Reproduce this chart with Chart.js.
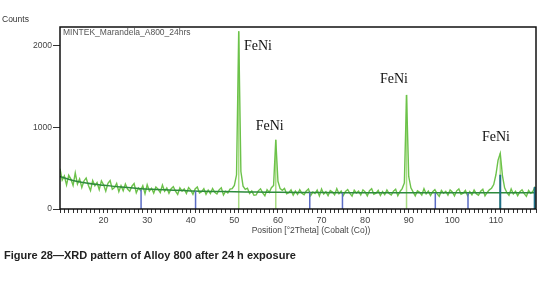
<!DOCTYPE html>
<html>
<head>
<meta charset="utf-8">
<script src="https://cdn.jsdelivr.net/npm/chart.js@4/dist/chart.umd.min.js"></script>
<style>
  body { margin: 0; background: #fff; }
  #wrap { position: relative; width: 551px; height: 284px; }
  #chart { position: absolute; left: 0; top: 0; }
  #caption {
    position: absolute; left: 4px; top: 249px;
    font: bold 11px "Liberation Sans", Arial, sans-serif; color: #222;
    white-space: nowrap;
  }
</style>
</head>
<body>
<div id="wrap">
  <canvas id="chart" width="551" height="284"></canvas>
  <div id="caption">Figure 28—XRD pattern of Alloy 800 after 24 h exposure</div>
</div>
<script>
// scan: 10 to 119 deg 2Theta, every 0.5 deg
const scanStart = 10
const scanStep = 0.5
const scanCounts = [
  495, 355, 405, 295, 416, 368, 290, 443, 306, 370,
  264, 344, 381, 291, 226, 350, 286, 325, 237, 345,
  297, 219, 315, 349, 242, 262, 313, 213, 287, 224,
  306, 245, 217, 280, 312, 199, 257, 228, 286, 187,
  297, 220, 254, 195, 269, 244, 202, 294, 218, 257,
  193, 248, 274, 218, 178, 260, 220, 247, 191, 262,
  232, 179, 246, 271, 197, 212, 248, 180, 232, 190,
  252, 205, 184, 235, 261, 171, 218, 196, 243, 250,
  290, 420, 2180, 460, 280, 240, 255, 190, 220, 168,
  173, 223, 248, 198, 163, 238, 203, 262, 290, 850,
  340, 250, 229, 253, 186, 200, 234, 171, 219, 181,
  237, 193, 174, 222, 246, 165, 208, 189, 232, 160,
  245, 183, 212, 164, 226, 207, 173, 250, 188, 221,
  167, 215, 239, 191, 158, 230, 196, 220, 172, 235,
  210, 162, 224, 248, 181, 195, 229, 166, 214, 176,
  234, 190, 171, 219, 243, 162, 215, 250, 320, 1400,
  400, 260, 210, 162, 224, 205, 171, 248, 186, 219,
  165, 213, 237, 189, 156, 228, 194, 218, 170, 233,
  209, 161, 223, 247, 180, 194, 228, 165, 213, 175,
  232, 188, 169, 217, 241, 160, 203, 235, 255, 300,
  420, 600, 683, 410, 260, 203, 169, 246, 184, 217,
  164, 212, 236, 188, 155, 227, 193, 217, 275
]

// fitted background
const bgTheta = [10, 12, 14, 16, 18, 20, 24, 28, 32, 36, 40, 45, 50, 55, 60, 70, 80, 90, 100, 110, 119]
const bgCounts = [400, 365, 338, 318, 303, 292, 270, 252, 240, 230, 222, 216, 212, 208, 205, 202, 200, 200, 199, 198, 198]

// peak list
const peakTheta = [51.0, 59.5, 89.5, 111.0]
const peakCounts = [2180, 850, 1400, 683]

// reference pattern sticks
const refTheta = [28.6, 41.1, 67.3, 74.8, 96.1, 103.6]
const refCounts = [235, 220, 205, 200, 195, 195]
const feniTheta = [111.0, 118.9]
const feniCounts = [420, 270]

const yTicks = [0, 1000, 2000]
const xLabels = [20, 30, 40, 50, 60, 70, 80, 90, 100, 110]

const labelText = 'FeNi'
const labelTheta = [55.4, 58.1, 86.6, 110.0]
const labelCounts = [2000, 1018, 1595, 883]

function sticks(xs, ys) {
  var pts = []
  xs.forEach((x, i) => {
    pts.push({ x: x, y: 0 }, { x: x, y: ys[i] }, { x: x, y: null })
  })
  return pts
}

var scanData = scanCounts.map((c, i) => ({ x: scanStart + i * scanStep, y: c }))
var bgData = bgTheta.map((t, i) => ({ x: t, y: bgCounts[i] }))

const textPlugin = {
  id: 'texts',
  afterDraw(chart) {
    var ctx = chart.ctx
    var a = chart.chartArea
    var xs = chart.scales.x
    var ys = chart.scales.y
    ctx.save()
    // frame
    ctx.strokeStyle = '#111'
    ctx.lineWidth = 1.5
    ctx.strokeRect(a.left, a.top, a.right - a.left, a.bottom - a.top)

    ctx.fillStyle = '#333'
    ctx.font = '8.5px "Liberation Sans", Arial, sans-serif'
    ctx.textBaseline = 'middle'
    ctx.textAlign = 'left'
    ctx.fillText('Counts', 2, 20)
    ctx.fillStyle = '#555'
    ctx.fillText('MINTEK_Marandela_A800_24hrs', a.left + 3, a.top + 6)
    ctx.fillStyle = '#444'
    ctx.textAlign = 'center'
    ctx.fillText('Position [°2Theta] (Cobalt (Co))', 311, 231)

    ctx.fillStyle = '#111'
    ctx.font = '14px "Liberation Serif", "Times New Roman", serif'
    labelTheta.forEach((t, i) => {
      ctx.fillText(labelText, xs.getPixelForValue(t), ys.getPixelForValue(labelCounts[i]))
    })
    ctx.restore()
  }
}

new Chart(document.getElementById('chart'), {
  type: 'scatter',
  data: {
    datasets: [
      {
        data: sticks(refTheta, refCounts),
        showLine: true, spanGaps: false, borderColor: '#5b6cc4', borderWidth: 1.5,
        pointRadius: 0, order: 1
      },
      {
        data: sticks(feniTheta, feniCounts),
        showLine: true, spanGaps: false, borderColor: '#1f6f86', borderWidth: 2,
        pointRadius: 0, order: 0
      },
      {
        data: sticks(peakTheta, peakCounts),
        showLine: true, spanGaps: false, borderColor: '#a8dc84', borderWidth: 1.5,
        pointRadius: 0, order: 4
      },
      {
        data: scanData,
        showLine: true, borderColor: '#6cc24a', borderWidth: 1.4,
        pointRadius: 0, order: 3
      },
      {
        data: bgData,
        showLine: true, borderColor: '#2d8a3c', borderWidth: 1.5, tension: 0.4,
        pointRadius: 0, order: 2
      }
    ]
  },
  options: {
    responsive: false,
    animation: false,
    devicePixelRatio: 1,
    layout: { padding: { left: 0, right: 15, top: 27, bottom: 0 } },
    plugins: { legend: { display: false }, tooltip: { enabled: false } },
    scales: {
      x: {
        type: 'linear', min: 10, max: 119.2,
        afterFit: (s) => { s.height = 75 },
        grid: { drawOnChartArea: false, tickLength: 4, color: '#333', tickWidth: 1 },
        border: { display: false },
        ticks: {
          stepSize: 1, autoSkip: false, maxRotation: 0, padding: 2,
          color: '#444', font: { family: '"Liberation Sans", Arial, sans-serif', size: 9 },
          callback: (v) => xLabels.includes(v) ? String(v) : ''
        }
      },
      y: {
        min: 0, max: 2233,
        afterFit: (s) => { s.width = 60 },
        afterBuildTicks: (s) => { s.ticks = yTicks.map(v => ({ value: v })) },
        grid: { drawOnChartArea: false, tickLength: 7, color: '#333' },
        border: { display: false },
        ticks: {
          padding: 1, color: '#444',
          font: { family: '"Liberation Sans", Arial, sans-serif', size: 8.5 },
          callback: (v) => String(v)
        }
      }
    }
  },
  plugins: [textPlugin]
})
</script>
</body>
</html>
